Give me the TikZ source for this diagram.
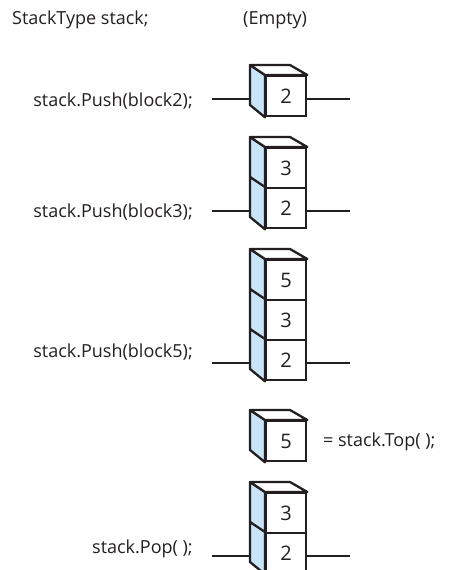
\documentclass[tikz,border=0pt]{standalone}
\usepackage{fontspec}
\setmainfont{Open Sans}
\usetikzlibrary{positioning,calc}
\definecolor{ink}{RGB}{35,31,32}
\definecolor{sideblue}{RGB}{200,228,248}
\tikzset{
  face/.style={draw=ink,line width=2.3pt,fill=white,minimum width=40pt,minimum height=40pt,
    inner sep=0pt,anchor=north west,font=\fontsize{20}{24}\selectfont,text=ink},
  side/.style={draw=ink,line width=2.3pt,fill=sideblue,line join=round},
  lid/.style={draw=ink,line width=2.3pt,fill=white,line join=round},
  wire/.style={draw=ink,line width=2.3pt},
  code/.style={font=\fontsize{18}{22}\selectfont,text=ink,inner sep=0pt},
}
\begin{document}
\begin{tikzpicture}[x=1pt,y=-1pt]
\useasboundingbox (0,0) rectangle (448,570);
% declaration
\node[code,anchor=base west] (decl) at (12,24) {StackType stack;};
\node[code,anchor=base west] (empty) at (243,24) {(Empty)};
% Push(block2)
\node[face] (a1) at (265,75) {2};
\draw[side] (a1.north west) -- ++(-15,-10) -- ++(0,40) -- (a1.south west) -- cycle;
\draw[lid] (a1.north west) -- ++(-15,-10) -- ++(40,0) -- (a1.north east) -- cycle;
\coordinate (ain) at (212,99);
\coordinate (aout) at (350,99);
\draw[wire] (ain) -- ($(ain -| a1.west)+(-15,0)$);
\draw[wire] (a1.east |- aout) -- (aout);
\node[code,anchor=base east] (t1) at (193,106) {stack.Push(block2);};
% Push(block3)
\foreach \v [count=\k] in {3,2}
  \node[face] (b\k) at (265,{147+40*(\k-1)}) {\v};
\foreach \k in {1,2}
  \draw[side] (b\k.north west) -- ++(-15,-10) -- ++(0,40) -- (b\k.south west) -- cycle;
\draw[lid] (b1.north west) -- ++(-15,-10) -- ++(40,0) -- (b1.north east) -- cycle;
\coordinate (bin) at (212,211);
\coordinate (bout) at (350,211);
\draw[wire] (bin) -- ($(bin -| b2.west)+(-15,0)$);
\draw[wire] (b2.east |- bout) -- (bout);
\node[code,anchor=base east] (t2) at (193,217) {stack.Push(block3);};
% Push(block5)
\foreach \v [count=\k] in {5,3,2}
  \node[face] (c\k) at (265,{259+40*(\k-1)}) {\v};
\foreach \k in {1,2,3}
  \draw[side] (c\k.north west) -- ++(-15,-10) -- ++(0,40) -- (c\k.south west) -- cycle;
\draw[lid] (c1.north west) -- ++(-15,-10) -- ++(40,0) -- (c1.north east) -- cycle;
\coordinate (cin) at (212,363);
\coordinate (cout) at (350,363);
\draw[wire] (cin) -- ($(cin -| c3.west)+(-15,0)$);
\draw[wire] (c3.east |- cout) -- (cout);
\node[code,anchor=base east] (t3) at (193,357) {stack.Push(block5);};
% Top()
\node[face] (d1) at (265,420) {5};
\draw[side] (d1.north west) -- ++(-15,-10) -- ++(0,40) -- (d1.south west) -- cycle;
\draw[lid] (d1.north west) -- ++(-15,-10) -- ++(40,0) -- (d1.north east) -- cycle;
\node[code,anchor=base west] (t4) at (323,446) {= stack.Top( );};
% Pop()
\foreach \v [count=\k] in {3,2}
  \node[face] (e\k) at (265,{492+40*(\k-1)}) {\v};
\foreach \k in {1,2}
  \draw[side] (e\k.north west) -- ++(-15,-10) -- ++(0,40) -- (e\k.south west) -- cycle;
\draw[lid] (e1.north west) -- ++(-15,-10) -- ++(40,0) -- (e1.north east) -- cycle;
\coordinate (ein) at (212,556);
\coordinate (eout) at (350,556);
\draw[wire] (ein) -- ($(ein -| e2.west)+(-15,0)$);
\draw[wire] (e2.east |- eout) -- (eout);
\node[code,anchor=base east] (t5) at (193,553) {stack.Pop( );};
\end{tikzpicture}
\end{document}
